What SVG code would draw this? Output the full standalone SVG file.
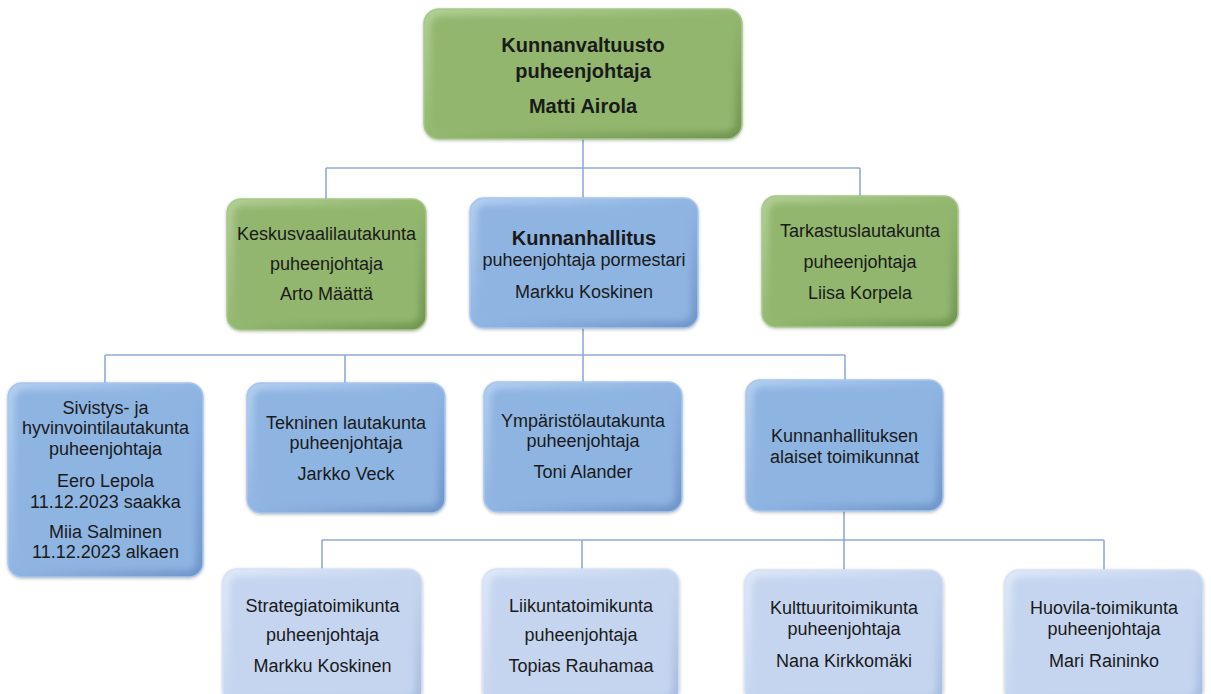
<svg xmlns="http://www.w3.org/2000/svg" width="1211" height="694" viewBox="0 0 1211 694">
<defs>
<linearGradient id="gG" x1="0" y1="0" x2="1" y2="1">
<stop offset="0" stop-color="#b2cf95"/><stop offset="0.5" stop-color="#93b86f"/><stop offset="1" stop-color="#6f9550"/>
</linearGradient>
<linearGradient id="gB" x1="0" y1="0" x2="1" y2="1">
<stop offset="0" stop-color="#b3cff0"/><stop offset="0.5" stop-color="#8fb5e3"/><stop offset="1" stop-color="#6e95c8"/>
</linearGradient>
<linearGradient id="gL" x1="0" y1="0" x2="1" y2="1">
<stop offset="0" stop-color="#dfe8f8"/><stop offset="0.5" stop-color="#c6d6f0"/><stop offset="1" stop-color="#a6bbdf"/>
</linearGradient>
<filter id="soft" x="-10%" y="-10%" width="120%" height="120%"><feGaussianBlur stdDeviation="3"/></filter>
<filter id="sh" x="-10%" y="-10%" width="120%" height="130%"><feDropShadow dx="0" dy="1" stdDeviation="1.5" flood-color="#000" flood-opacity="0.25"/></filter>
</defs>
<style>
.bg{fill:#ffffff}
.g .o{fill:url(#gG);stroke:#a8c78a;stroke-width:1.5;filter:url(#sh)}
.g .i{fill:#92b66e;filter:url(#soft)}
.b .o{fill:url(#gB);stroke:#a8c6ec;stroke-width:1.5;filter:url(#sh)}
.b .i{fill:#8eb4e2;filter:url(#soft)}
.l .o{fill:url(#gL);stroke:#d5e1f5;stroke-width:1.5;filter:url(#sh)}
.l .i{fill:#c5d5ef;filter:url(#soft)}
text{font-family:"Liberation Sans",Arial,sans-serif;font-size:18px;fill:#1a1a1a;text-anchor:middle}
.bd{font-weight:bold;font-size:20px}
.c{fill:none;stroke:#8eaadb;stroke-width:1.6}
</style>
<rect class="bg" width="1211" height="694"/>
<g id="connectors">
<path class="c" d="M583,138 V168 M326,168 H860 M326,168 V199 M583,168 V198 M860,168 V196"/>
<path class="c" d="M583,328 V355 M105,355 H845 M105,355 V383 M345,355 V383 M583,355 V382 M845,355 V380"/>
<path class="c" d="M844,511 V540 M322,540 H1104 M322,540 V569 M582,540 V569 M844,540 V570 M1104,540 V570"/>
</g>
<g id="kunnanvaltuusto" class="g">
<rect class="o" x="424" y="9" width="318" height="130" rx="15"/>
<rect class="i" x="431" y="16" width="304" height="116" rx="10"/>
<text class="bd" x="583" y="52">Kunnanvaltuusto</text>
<text class="bd" x="583" y="78">puheenjohtaja</text>
<text class="bd" x="583" y="113">Matti Airola</text>
</g>
<g id="keskusvaalilautakunta" class="g">
<rect class="o" x="227" y="199" width="199" height="131" rx="14"/>
<rect class="i" x="234" y="206" width="185" height="117" rx="9"/>
<text x="326.5" y="240">Keskusvaalilautakunta</text>
<text x="326.5" y="270">puheenjohtaja</text>
<text x="326.5" y="300">Arto Määttä</text>
</g>
<g id="kunnanhallitus" class="b">
<rect class="o" x="470" y="198" width="228" height="130" rx="14"/>
<rect class="i" x="477" y="205" width="214" height="116" rx="9"/>
<text class="bd" x="584" y="245">Kunnanhallitus</text>
<text x="584" y="266">puheenjohtaja pormestari</text>
<text x="584" y="298">Markku Koskinen</text>
</g>
<g id="tarkastuslautakunta" class="g">
<rect class="o" x="762" y="196" width="196" height="131" rx="14"/>
<rect class="i" x="769" y="203" width="182" height="117" rx="9"/>
<text x="860" y="237">Tarkastuslautakunta</text>
<text x="860" y="268">puheenjohtaja</text>
<text x="860" y="299">Liisa Korpela</text>
</g>
<g id="sivistys" class="b">
<rect class="o" x="8" y="383" width="195" height="194" rx="14"/>
<rect class="i" x="15" y="390" width="181" height="180" rx="9"/>
<text x="105.5" y="414">Sivistys- ja</text>
<text x="105.5" y="434">hyvinvointilautakunta</text>
<text x="105.5" y="455">puheenjohtaja</text>
<text x="105.5" y="487">Eero Lepola</text>
<text x="105.5" y="508">11.12.2023 saakka</text>
<text x="105.5" y="538">Miia Salminen</text>
<text x="105.5" y="558">11.12.2023 alkaen</text>
</g>
<g id="tekninen" class="b">
<rect class="o" x="247" y="383" width="198" height="130" rx="14"/>
<rect class="i" x="254" y="390" width="184" height="116" rx="9"/>
<text x="346" y="429">Tekninen lautakunta</text>
<text x="346" y="449">puheenjohtaja</text>
<text x="346" y="480">Jarkko Veck</text>
</g>
<g id="ymparisto" class="b">
<rect class="o" x="484" y="382" width="198" height="130" rx="14"/>
<rect class="i" x="491" y="389" width="184" height="116" rx="9"/>
<text x="583" y="427">Ympäristölautakunta</text>
<text x="583" y="447">puheenjohtaja</text>
<text x="583" y="478">Toni Alander</text>
</g>
<g id="alaiset" class="b">
<rect class="o" x="746" y="380" width="197" height="131" rx="14"/>
<rect class="i" x="753" y="387" width="183" height="117" rx="9"/>
<text x="844.5" y="442">Kunnanhallituksen</text>
<text x="844.5" y="463">alaiset toimikunnat</text>
</g>
<g id="strategia" class="l">
<rect class="o" x="223" y="569" width="199" height="135" rx="14"/>
<rect class="i" x="230" y="576" width="185" height="121" rx="9"/>
<text x="322.5" y="612">Strategiatoimikunta</text>
<text x="322.5" y="641">puheenjohtaja</text>
<text x="322.5" y="672">Markku Koskinen</text>
</g>
<g id="liikunta" class="l">
<rect class="o" x="483" y="569" width="196" height="135" rx="14"/>
<rect class="i" x="490" y="576" width="182" height="121" rx="9"/>
<text x="581" y="612">Liikuntatoimikunta</text>
<text x="581" y="641">puheenjohtaja</text>
<text x="581" y="672">Topias Rauhamaa</text>
</g>
<g id="kulttuuri" class="l">
<rect class="o" x="745" y="570" width="198" height="134" rx="14"/>
<rect class="i" x="752" y="577" width="184" height="120" rx="9"/>
<text x="844" y="614">Kulttuuritoimikunta</text>
<text x="844" y="635">puheenjohtaja</text>
<text x="844" y="667">Nana Kirkkomäki</text>
</g>
<g id="huovila" class="l">
<rect class="o" x="1005" y="570" width="198" height="134" rx="14"/>
<rect class="i" x="1012" y="577" width="184" height="120" rx="9"/>
<text x="1104" y="614">Huovila-toimikunta</text>
<text x="1104" y="635">puheenjohtaja</text>
<text x="1104" y="667">Mari Raininko</text>
</g>
</svg>
